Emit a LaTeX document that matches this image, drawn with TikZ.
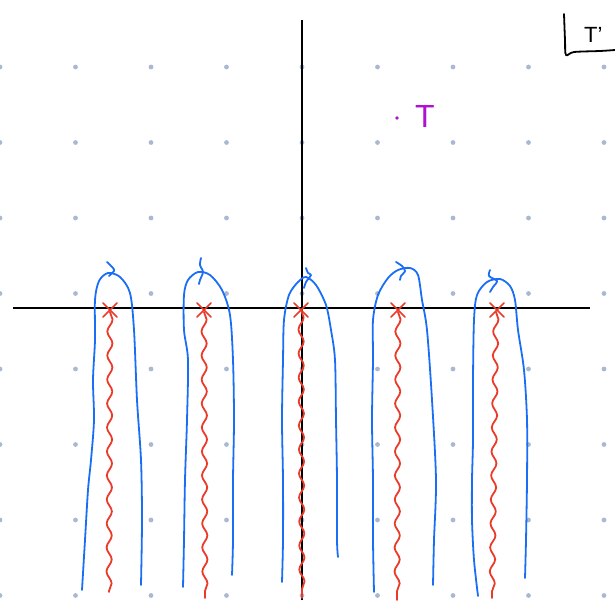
\documentclass[tikz,border=0pt]{standalone}
\usepackage{fontspec}
\setmainfont{Liberation Sans}
\usetikzlibrary{decorations.pathmorphing}
\definecolor{penblue}{HTML}{1A6EF5}
\definecolor{penred}{HTML}{EA3B2A}
\definecolor{penpurple}{HTML}{B010D0}
\definecolor{griddot}{HTML}{A9B9D2}
\tikzset{
  bluepen/.style={draw=penblue, line width=1.8pt, line cap=round, line join=round},
  redpen/.style={draw=penred, line width=1.8pt, line cap=round, line join=round},
  wavy/.style={redpen, decorate, decoration={snake, amplitude=2.6pt, segment length=24pt}},
  axis/.style={draw=black, line width=1.6pt},
  crossmark/.style={redpen, line width=1.6pt},
}
\begin{document}
\begin{tikzpicture}[x=1pt,y=-1pt]
\useasboundingbox (0,0) rectangle (615,602);
% dot grid
\foreach \i in {0,...,8} {
  \foreach \j in {0,...,7} {
    \fill[griddot] (75.5*\i, 67+75.5*\j) circle (2.4pt);
  }
}
% axes
\draw[axis] (302,20) -- (302,600);
\draw[axis] (13,308) -- (590,308);
% red wavy cuts
\draw[wavy] (110,312) -- (109,592);
\draw[wavy] (204,312) -- (205,598);
\draw[wavy] (301,310) -- (302,598);
\draw[wavy] (398,312) -- (397,600);
\draw[wavy] (496,312) -- (492,598);
% crosses
\foreach \cx in {110,204,301,398,497} {
  \draw[crossmark] (\cx-7,303) -- (\cx+7,317);
  \draw[crossmark] (\cx-7,317) -- (\cx+7,303);
}
% blue contours
\draw[bluepen] plot[smooth] coordinates {(82,590)(85,540)(88,490)(91,460)(94,420)(93,380)(95,340)(95,300)(99,281)(108,273)(120,277)(130,293)(134,330)(137,400)(141,460)(142,520)(141,585)};
\draw[bluepen] plot[smooth] coordinates {(107,262)(113,268)(114,271)(109,276)};
\draw[bluepen] plot[smooth] coordinates {(183,587)(184,540)(185,480)(187,420)(188,360)(184,330)(184,295)(188,280)(198,272)(210,275)(222,290)(230,315)(233,360)(234,420)(233,480)(233,540)(232,575)};
\draw[bluepen] plot[smooth] coordinates {(201,258)(200,265)(203,272)(200,280)(199,284)};
\draw[bluepen] plot[smooth] coordinates {(282,582)(283,540)(283,480)(282,420)(283,360)(284,320)(289,295)(298,282)(306,277)(316,285)(326,305)(331,330)(335,360)(336,420)(337,480)(337,540)(338,557)};
\draw[bluepen] plot[smooth] coordinates {(306,268)(308,273)(311,275)(306,282)(304,288)};
\draw[bluepen] plot[smooth] coordinates {(374,592)(373,540)(373,480)(372,420)(373,360)(373,320)(378,295)(388,278)(398,270)(410,268)(418,275)(422,300)(427,330)(432,400)(436,480)(434,540)(433,585)};
\draw[bluepen] plot[smooth] coordinates {(396,262)(402,266)(405,271)(401,276)(400,280)};
\draw[bluepen] plot[smooth] coordinates {(478,596)(474,560)(472,520)(472,480)(473,440)(473,380)(474,320)(477,295)(487,282)(500,279)(510,286)(515,300)(518,330)(524,370)(527,420)(527,480)(526,540)(525,578)};
\draw[bluepen] plot[smooth] coordinates {(490,270)(489,276)(497,281)(493,287)(490,292)};
% purple label
\fill[penpurple] (397,118) circle (1.8pt);
\node[text=penpurple, font=\fontsize{32}{32}\selectfont, inner sep=0pt] (tlabel) at (425,116) {T};
% top-right corner box
\draw[line width=1.8pt, line cap=round, line join=round] plot[smooth] coordinates {(564,14)(565,40)(566,55)(574,52)(600,51)(615,50)};
\node[font=\fontsize{22}{22}\selectfont, inner sep=0pt, anchor=west] (tlabel2) at (584,35) {T'};
\end{tikzpicture}
\end{document}
